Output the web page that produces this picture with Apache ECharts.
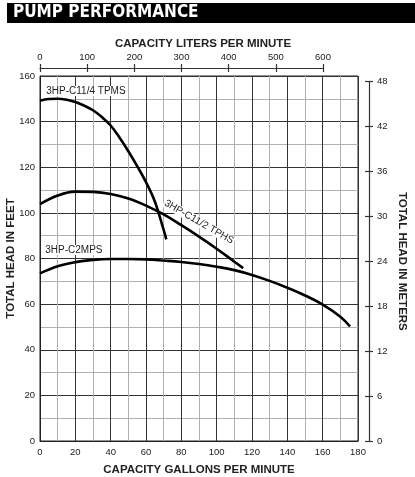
<!DOCTYPE html>
<html><head><meta charset="utf-8">
<script src="https://cdn.jsdelivr.net/npm/echarts@6/dist/echarts.min.js"></script>
<style>html,body{margin:0;padding:0;background:#fff}#c{width:415px;height:477px}</style>
</head><body><div id="c"></div>
<script>
// Data (gallons per minute vs total head in feet)
const tpms_gpm  = [0, 5, 10, 15, 20, 25, 30, 35, 40, 45, 50, 55, 60, 65, 70, 71.5];
const tpms_head = [149.2, 149.9, 150, 149.6, 148.6, 147, 145, 142, 138.3, 133, 127, 120.5, 113.5, 105, 92.5, 88.4];
const tphs_gpm  = [0, 10, 20, 30, 40, 50, 60, 70, 80, 90, 100, 110, 115];
const tphs_head = [103.8, 107.6, 109.3, 109.2, 108.3, 106.3, 103.2, 99.3, 94.6, 89.6, 84.3, 78.6, 75.8];
const mps_gpm   = [0, 10, 20, 30, 40, 50, 60, 70, 80, 90, 100, 110, 120, 130, 140, 150, 160, 170, 175.5];
const mps_head  = [73.5, 76.6, 78.4, 79.4, 79.8, 79.8, 79.6, 79.1, 78.5, 77.6, 76.4, 74.9, 72.8, 70.2, 67.2, 63.8, 59.8, 54.5, 50.2];
const seriesNames = ['3HP-C11/4 TPMS', '3HP-C11/2 TPHS', '3HP-C2MPS'];
// label anchor positions in data coordinates [gpm, ft] and rotation
const labelPos = [[26, 153.4], [90, 96], [19.2, 83.7]];
const labelRot = [0, -30, 0];
const feetTicks = {min: 0, max: 160, interval: 20};
const gpmTicks = {min: 0, max: 180, interval: 20};
const literTicks = {min: 0, max: 600, interval: 100};
const meterTicks = {min: 0, max: 48, interval: 6};

const pairs = (xs, ys) => xs.map((x, i) => [x, ys[i]]);
const FONT = 'Liberation Sans, Arial, sans-serif';
const TXT = '#222';
const AX = '#333';

const chart = echarts.init(document.getElementById('c'), null, {renderer: 'canvas'});
const lineSeries = (name, data, idx) => ({
  name, type: 'line', xAxisIndex: 0, yAxisIndex: 0, data, smooth: 0.4, symbol: 'none',
  lineStyle: {color: '#000', width: 2.6}, z: 5,
  markPoint: {
    symbol: 'circle', symbolSize: 0, silent: true,
    data: [{coord: labelPos[idx], value: name}],
    label: {show: true, position: 'inside', formatter: name, color: TXT, fontFamily: FONT, fontSize: 10,
            rotate: labelRot[idx], backgroundColor: '#fff', padding: [0, 1]}
  }
});
const G = (o) => Object.assign({outerBoundsMode: 'none', containLabel: false}, o);
const hiddenX = (g) => ({type: 'value', gridIndex: g, show: false, min: 0, max: 1});
const hiddenY = (g) => ({type: 'value', gridIndex: g, show: false, min: 0, max: 1});
const nameStyle = {fontFamily: FONT, fontWeight: 'bold', fontSize: 11.5, color: TXT};

chart.setOption({
  animation: false,
  graphic: [
    {type: 'rect', left: 7, top: 3, shape: {width: 408, height: 20}, style: {fill: '#000'}},
    {type: 'text', left: 13, top: 4, style: {text: 'PUMP PERFORMANCE', fill: '#fff', font: 'bold 17px "Liberation Sans Narrow", "DejaVu Sans Condensed", "Liberation Sans", sans-serif'}}
  ],
  title: [
    {text: 'CAPACITY LITERS PER MINUTE', left: 198, top: 33, textAlign: 'center', textStyle: nameStyle}
  ],
  grid: [
    G({left: 40, right: 57, top: 76, bottom: 36, show: true, borderColor: '#222', borderWidth: 1}),
    G({left: 40, width: 283, top: 68, height: 0}),
    G({left: 40, width: 283, top: 68, height: 0}),
    G({left: 300, right: 46, top: 81.7, bottom: 36}),
    G({left: 300, right: 46, top: 81.7, bottom: 36})
  ],
  xAxis: [
    {type: 'value', gridIndex: 0, min: gpmTicks.min, max: gpmTicks.max, interval: gpmTicks.interval,
     name: 'CAPACITY GALLONS PER MINUTE', nameLocation: 'middle', nameGap: 23, nameMoveOverlap: false,
     nameTextStyle: nameStyle,
     axisLine: {show: true, onZero: false, lineStyle: {color: '#222', width: 1}}, axisTick: {show: false},
     axisLabel: {fontFamily: FONT, fontSize: 9.5, color: TXT, margin: 6},
     splitLine: {show: true, lineStyle: {color: AX, width: 1}},
     minorTick: {show: false, splitNumber: 2},
     minorSplitLine: {show: true, lineStyle: {color: '#b0b0b0', width: 1}}},
    {type: 'value', gridIndex: 1, position: 'top', min: literTicks.min, max: literTicks.max, interval: literTicks.interval,
     axisLine: {show: true, onZero: false, lineStyle: {color: AX, width: 1.2}},
     axisTick: {show: true, inside: false, length: 4, lineStyle: {color: AX, width: 1.2}},
     axisLabel: {fontFamily: FONT, fontSize: 9.5, color: TXT, margin: 6},
     splitLine: {show: false}},
    {type: 'value', gridIndex: 2, position: 'top', min: literTicks.min, max: literTicks.max, interval: literTicks.interval,
     axisLine: {show: false, onZero: false}, axisTick: {show: true, inside: true, length: 4, lineStyle: {color: AX, width: 1.2}},
     axisLabel: {show: false}, splitLine: {show: false}},
    hiddenX(3), hiddenX(4)
  ],
  yAxis: [
    {type: 'value', gridIndex: 0, min: feetTicks.min, max: feetTicks.max, interval: feetTicks.interval,
     name: 'TOTAL HEAD IN FEET', nameLocation: 'middle', nameGap: 23, nameMoveOverlap: false,
     nameTextStyle: nameStyle,
     axisLine: {show: true, onZero: false, lineStyle: {color: '#222', width: 1}}, axisTick: {show: false},
     axisLabel: {fontFamily: FONT, fontSize: 9.5, color: TXT, margin: 5},
     splitLine: {show: true, lineStyle: {color: AX, width: 1}},
     minorTick: {show: false, splitNumber: 2},
     minorSplitLine: {show: true, lineStyle: {color: '#b0b0b0', width: 1}}},
    hiddenY(1), hiddenY(2),
    {type: 'value', gridIndex: 3, position: 'right', min: meterTicks.min, max: meterTicks.max, interval: meterTicks.interval,
     name: 'TOTAL HEAD IN METERS', nameLocation: 'middle', nameGap: 27, nameRotate: -90, nameMoveOverlap: false,
     nameTextStyle: nameStyle,
     axisLine: {show: true, onZero: false, lineStyle: {color: AX, width: 1.2}},
     axisTick: {show: true, inside: false, length: 4, lineStyle: {color: AX, width: 1.2}},
     axisLabel: {fontFamily: FONT, fontSize: 9.5, color: TXT, margin: 8},
     splitLine: {show: false}},
    {type: 'value', gridIndex: 4, position: 'right', min: meterTicks.min, max: meterTicks.max, interval: meterTicks.interval,
     axisLine: {show: false, onZero: false}, axisTick: {show: true, inside: true, length: 4, lineStyle: {color: AX, width: 1.2}},
     axisLabel: {show: false}, splitLine: {show: false}}
  ],
  series: [
    lineSeries(seriesNames[0], pairs(tpms_gpm, tpms_head), 0),
    lineSeries(seriesNames[1], pairs(tphs_gpm, tphs_head), 1),
    lineSeries(seriesNames[2], pairs(mps_gpm, mps_head), 2)
  ]
});
</script></body></html>
